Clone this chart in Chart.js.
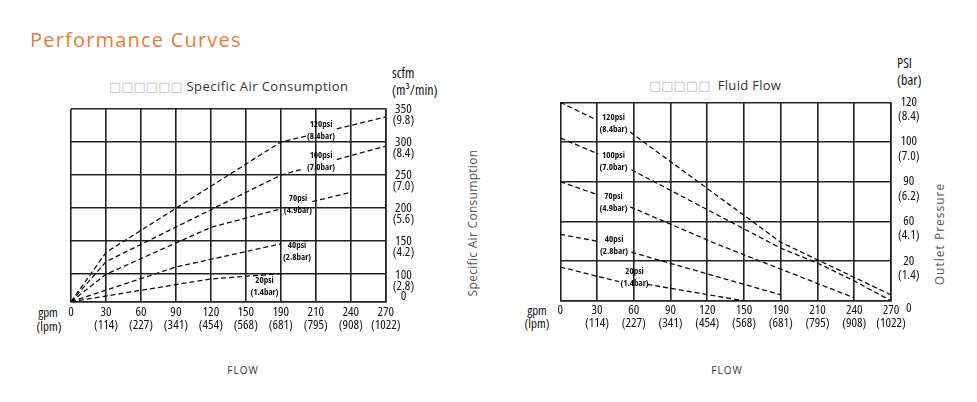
<!DOCTYPE html>
<html>
<head>
<meta charset="utf-8">
<script src="https://cdn.jsdelivr.net/npm/chart.js@4.4.1/dist/chart.umd.min.js"></script>
<style>
  html, body { margin: 0; padding: 0; background: #fff; }
  body { width: 977px; height: 402px; position: relative; overflow: hidden; }
  canvas { position: absolute; top: 0; }
  .t { position: absolute; white-space: nowrap; line-height: 1; }
  .c { transform: translate(-50%, -50%); }
  .l { transform: translate(0, -50%); }
  .narrow { font-family: "Open Sans", sans-serif; font-stretch: condensed; color: #111; }
  .box { color: #bdbdbd; font-family: "DejaVu Sans", sans-serif; letter-spacing: 0px; }
  .rot { transform: translate(-50%, -50%) rotate(-90deg); }
</style>
</head>
<body>
<div class="t l" style="left:30px;top:40px;font-family:'Open Sans',sans-serif;font-size:20px;letter-spacing:1.2px;color:#E97B34;">Performance Curves</div>

<div class="t l" style="left:109px;top:86px;font-family:'Open Sans',sans-serif;font-size:13px;letter-spacing:0.45px;color:#333;"><span class="box">□□□□□□</span> Specific Air Consumption</div>
<div class="t l" style="left:649px;top:85px;font-family:'Open Sans',sans-serif;font-size:13px;letter-spacing:0.3px;color:#333;"><span class="box">□□□□□</span>&nbsp; Fluid Flow</div>

<div class="t l narrow" style="left:392px;top:73px;font-size:14px;">scfm</div>
<div class="t l narrow" style="left:392px;top:90px;font-size:14px;">(m³/min)</div>
<div class="t l narrow" style="left:897px;top:63px;font-size:14px;">PSI</div>
<div class="t l narrow" style="left:897px;top:80px;font-size:14px;">(bar)</div>

<div class="t c narrow" style="left:48px;top:312px;font-size:13px;">gpm</div>
<div class="t c narrow" style="left:49px;top:326px;font-size:13px;">(lpm)</div>
<div class="t c narrow" style="left:537px;top:310px;font-size:13px;">gpm</div>
<div class="t c narrow" style="left:537px;top:323px;font-size:13px;">(lpm)</div>

<div class="t rot" style="left:473px;top:223px;font-family:'Open Sans',sans-serif;font-size:12px;letter-spacing:0.3px;color:#555;">Specific Air Consumption</div>
<div class="t rot" style="left:940px;top:234px;font-family:'Open Sans',sans-serif;font-size:12px;letter-spacing:1px;color:#555;">Outlet Pressure</div>

<div class="t c" style="left:243px;top:370px;font-family:'Open Sans',sans-serif;font-size:10px;letter-spacing:1px;color:#333;">FLOW</div>
<div class="t c" style="left:727px;top:370px;font-family:'Open Sans',sans-serif;font-size:10px;letter-spacing:1px;color:#333;">FLOW</div>

<canvas id="air" width="490" height="402" style="left:0;width:490px;height:402px;"></canvas>
<canvas id="flow" width="487" height="402" style="left:490px;width:487px;height:402px;"></canvas>

<script>
// ---------- axis tick labels ----------
const gpmTicks   = [0, 30, 60, 90, 120, 150, 190, 210, 240, 270];
const lpmTicks   = ['', '114', '227', '341', '454', '568', '681', '795', '908', '1022'];
const scfmTicks  = [0, 100, 150, 200, 250, 300, 350];
const m3minTicks = ['', '2.8', '4.2', '5.6', '7.0', '8.4', '9.8'];
const psiTicks   = [0, 20, 60, 90, 100, 120];
const barTicks   = ['', '1.4', '4.1', '6.2', '7.0', '8.4'];

// ---------- series names ----------
const pressureNames = ['120psi', '100psi', '70psi', '40psi', '20psi'];
const pressureBars  = ['(8.4bar)', '(7.0bar)', '(4.9bar)', '(2.8bar)', '(1.4bar)'];

// ---------- Specific Air Consumption: [gpm, scfm]; null = break where the label sits ----------
const air120 = [[0, 0], [30, 133], [190, 300], [205.5, 309.7], null, [228, 320], [270, 338]];
const air100 = [[0, 0], [30, 119], [190, 250], [202.7, 259.2], null, [228, 273.6], [270, 294]];
const air70  = [[0, 0], [30, 100], [120, 171], [190, 199], null, [208, 210], [240, 224]];
const air40  = [[0, 0], [90, 111], [190, 146]];
const air20  = [[0, 0], [120, 83], [190, 101]];
const airLabelAt = [[214.5, 317.7], [214.5, 270.8], [199.8, 206], [199.3, 134.1], [171.3, 54.7]];

// ---------- Fluid Flow: [gpm, psi]; null = break where the label sits ----------
const flow120 = [[0, 120], [30, 111], null, [57, 105], [190, 39], [270, 3]];
const flow100 = [[0, 102], [31, 97], null, [58, 93], [190, 33], [210, 19], [240, 10], [270, 0]];
const flow70  = [[0, 90], [31, 80], null, [57, 71], [130, 36], [240, 1.5]];
const flow40  = [[0, 47], [30, 40], null, [58, 29], [190, 3]];
const flow20  = [[0, 17], [48, 9.6], null, [71, 8.3], [150, 0]];
const flowLabelAt = [[43.4, 109.3], [43.4, 95.1], [43.4, 74.7], [43.9, 35.7], [60.6, 11.6]];

// ---------- a scale whose tick labels sit at fixed fractions (the original's non-uniform axes) ----------
class PiecewiseScale extends Chart.LinearScale {
  static id = 'piecewise';
  static defaults = {};
  determineDataLimits() {
    const b = this.options.breaks;
    this.min = b[0];
    this.max = b[b.length - 1];
  }
  buildTicks() {
    return this.options.breaks.map(v => ({ value: v }));
  }
  _fracs() {
    const b = this.options.breaks;
    return this.options.fracs || b.map((_, i) => i / (b.length - 1));
  }
  getPixelForValue(v) {
    if (v === null || v === undefined || isNaN(v)) return NaN;
    const b = this.options.breaks, f = this._fracs();
    let i = 0;
    while (i < b.length - 2 && v > b[i + 1]) i++;
    const d = f[i] + (v - b[i]) / (b[i + 1] - b[i]) * (f[i + 1] - f[i]);
    return this.getPixelForDecimal(d);
  }
  getValueForPixel(p) {
    const d = this.getDecimalForPixel(p);
    const b = this.options.breaks, f = this._fracs();
    let i = 0;
    while (i < f.length - 2 && d > f[i + 1]) i++;
    return b[i] + (d - f[i]) / (f[i + 1] - f[i]) * (b[i + 1] - b[i]);
  }
}
Chart.register(PiecewiseScale);

const NARROW = '"Open Sans", sans-serif';

const seriesLabels = {
  id: 'seriesLabels',
  afterDatasetsDraw(chart, args, opts) {
    const { ctx } = chart;
    const xs = chart.scales.x, ys = chart.scales.y;
    ctx.save();
    ctx.font = 'bold condensed 9px ' + NARROW;
    ctx.textAlign = 'center';
    ctx.textBaseline = 'middle';
    ctx.fillStyle = '#111';
    opts.at.forEach((p, i) => {
      const px = xs.getPixelForValue(p[0]);
      const py = ys.getPixelForValue(p[1]);
      ctx.fillText(pressureNames[i], px, py - 6);
      ctx.fillText(pressureBars[i], px, py + 6);
    });
    ctx.restore();
  }
};

function toPoints(arr) {
  const out = [];
  arr.forEach((p, i) => {
    if (p === null) out.push({ x: arr[i - 1][0], y: null });
    else out.push({ x: p[0], y: p[1] });
  });
  return out;
}

function makeDataset(arr) {
  return {
    data: toPoints(arr),
    borderColor: '#111',
    borderWidth: 1.3,
    borderDash: [5, 3],
    pointRadius: 0,
    pointHoverRadius: 0,
    tension: 0,
    fill: false,
    spanGaps: false
  };
}

function makeChart(id, series, labelAt, yTicks, yLabels, yFracs, pad, xPad, yLabelOffset, yLineH, zeroLabel, yFont) {
  return new Chart(document.getElementById(id), {
    type: 'line',
    data: { datasets: series.map(makeDataset) },
    options: {
      responsive: false,
      animation: false,
      devicePixelRatio: 1,
      layout: { padding: pad },
      plugins: { legend: { display: false }, tooltip: { enabled: false }, seriesLabels: { at: labelAt } },
      scales: {
        x: {
          type: 'piecewise',
          position: 'bottom',
          breaks: gpmTicks,
          afterFit: s => { s.height = 40; },
          grid: { color: '#222', lineWidth: 1.6, drawTicks: false },
          border: { color: '#222', width: 1.6 },
          ticks: {
            padding: xPad,
            color: '#111',
            maxRotation: 0,
            autoSkip: false,
            font: { family: NARROW, weight: 'condensed', size: 13, lineHeight: '13px' },
            callback: (v, i) => (i === 0 ? [String(gpmTicks[i])] : [String(gpmTicks[i]), '(' + lpmTicks[i] + ')'])
          }
        },
        y: {
          type: 'piecewise',
          position: 'right',
          breaks: yTicks,
          fracs: yFracs,
          afterFit: s => { s.width = 50; },
          grid: { color: '#222', lineWidth: 1.6, drawTicks: false },
          border: { color: '#222', width: 1.6 },
          ticks: {
            padding: 7,
            crossAlign: 'center',
            labelOffset: yLabelOffset,
            color: '#111',
            autoSkip: false,
            font: { family: NARROW, weight: 'condensed', size: yFont, lineHeight: yLineH },
            callback: (v, i) => (i === 0 ? zeroLabel : [String(yTicks[i]), '(' + yLabels[i] + ')'])
          }
        }
      }
    },
    plugins: [seriesLabels]
  });
}

makeChart('air', [air120, air100, air70, air40, air20], airLabelAt,
  scfmTicks, m3minTicks, [0, 0.1422, 0.3138, 0.4853, 0.6569, 0.8284, 1],
  { left: 71, top: 109, right: 54.3, bottom: 60.3 }, 4.5, 6, '11px', ['0', '', ''], 13);

makeChart('flow', [flow120, flow100, flow70, flow40, flow20], flowLabelAt,
  psiTicks, barTicks, null,
  { left: 70.3, top: 102.3, right: 36, bottom: 61.2 }, 2.7, 7, '14.5px', '0', 13);
</script>
</body>
</html>
